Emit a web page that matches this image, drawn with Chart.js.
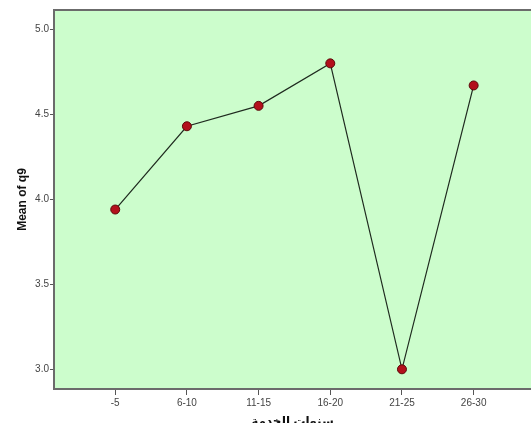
<!DOCTYPE html>
<html>
<head>
<meta charset="utf-8">
<script src="https://cdn.jsdelivr.net/npm/chart.js@4"></script>
<style>
    html, body { margin: 0; padding: 0; background: #fff; overflow: hidden; }
    canvas { display: block; }
</style>
</head>
<body>
<canvas id="chart" width="531" height="429"></canvas>
<script>
// data
const categories = ['-5', '6-10', '11-15', '16-20', '21-25', '26-30'];
const meanQ9 = [3.94, 4.43, 4.55, 4.80, 3.00, 4.67];
const yTicks = [3.0, 3.5, 4.0, 4.5, 5.0];

// plot background + top frame line
const plotFrame = {
    id: 'plotFrame',
    beforeDraw(chart) {
        const { ctx, chartArea: a } = chart;
        ctx.save();
        ctx.fillStyle = '#ccfdcc';
        ctx.fillRect(a.left, a.top, a.right - a.left, a.bottom - a.top);
        ctx.restore();
    },
    afterDraw(chart) {
        const { ctx, chartArea: a } = chart;
        ctx.save();
        ctx.strokeStyle = '#6b6b6b';
        ctx.lineWidth = 2;
        ctx.beginPath();
        ctx.moveTo(a.left, a.top);
        ctx.lineTo(a.right, a.top);
        ctx.stroke();
        ctx.restore();
    }
};

const tickFont = { family: 'Arial, "Liberation Sans"', size: 10 };

new Chart(document.getElementById('chart'), {
    type: 'line',
    data: {
        datasets: [{
            data: meanQ9.map((v, i) => ({ x: i, y: v })),
            borderColor: '#1f2a1f',
            borderWidth: 1.2,
            pointRadius: 4.5,
            pointBackgroundColor: '#b3101c',
            pointBorderColor: '#5c0a0a',
            pointBorderWidth: 1,
            tension: 0
        }]
    },
    options: {
        responsive: false,
        animation: false,
        layout: { autoPadding: false, padding: { top: 10, right: 0, left: 0, bottom: 0 } },
        plugins: {
            legend: { display: false },
            tooltip: { enabled: false }
        },
        scales: {
            x: {
                type: 'linear',
                min: -0.854,
                max: 5.80,
                afterBuildTicks: (s) => { s.ticks = categories.map((c, i) => ({ value: i })); },
                afterFit: (s) => { s.height = 40; },
                ticks: {
                    autoSkip: false,
                    maxRotation: 0,
                    padding: 2,
                    color: '#444',
                    font: tickFont,
                    callback: (v) => categories[v]
                },
                grid: { drawOnChartArea: false, tickLength: 6, color: '#555', tickWidth: 1 },
                border: { display: true, color: '#6b6b6b', width: 2 },
                title: {
                    display: true,
                    text: 'سنوات الخدمة',
                    color: '#111',
                    font: { family: 'Arial, "Liberation Sans", "DejaVu Sans"', size: 12, weight: 'bold' },
                    padding: { top: 4, bottom: 0 }
                }
            },
            y: {
                min: 2.884,
                max: 5.114,
                afterBuildTicks: (s) => { s.ticks = yTicks.map(v => ({ value: v })); },
                afterFit: (s) => { s.width = 54; },
                ticks: {
                    padding: 1,
                    color: '#444',
                    font: tickFont,
                    callback: (v) => v.toFixed(1)
                },
                grid: { drawOnChartArea: false, tickLength: 4, color: '#555', tickWidth: 1 },
                border: { display: true, color: '#6b6b6b', width: 2 },
                title: {
                    display: true,
                    text: 'Mean of q9',
                    color: '#111',
                    font: { family: 'Arial, "Liberation Sans"', size: 12, weight: 'bold' },
                    padding: { top: 15, bottom: 0 }
                }
            }
        }
    },
    plugins: [plotFrame]
});
</script>
</body>
</html>
